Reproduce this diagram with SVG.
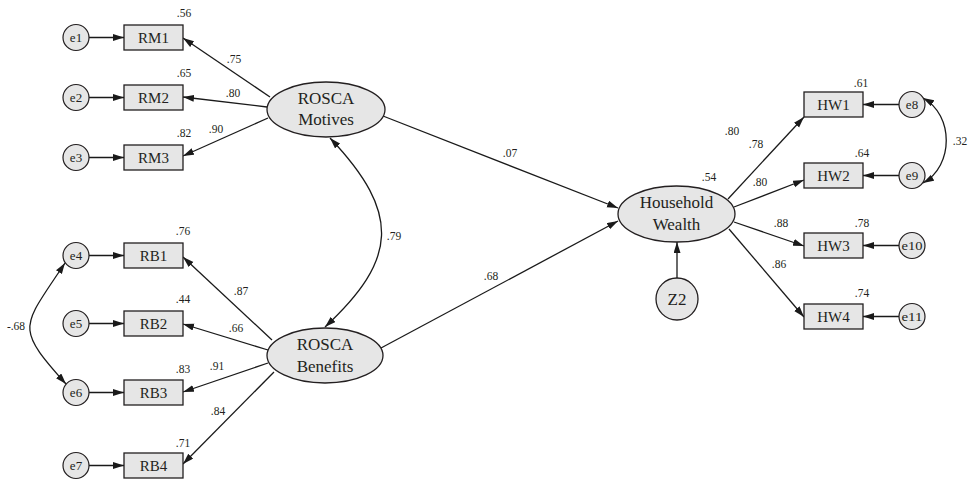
<svg xmlns="http://www.w3.org/2000/svg" width="970" height="483" viewBox="0 0 970 483">
  <defs>
    <marker id="arrow" markerUnits="userSpaceOnUse" markerWidth="12" markerHeight="8" refX="11" refY="3.5" orient="auto-start-reverse">
      <path d="M0,0 L11,3.5 L0,7 z" fill="#1a1a1a"/>
    </marker>
    <style>
      .box { fill: #e6e6e6; stroke: #231f20; stroke-width: 1.3; }
      .lat { fill: #e6e6e6; stroke: #231f20; stroke-width: 1.3; }
      .err { fill: #e6e6e6; stroke: #231f20; stroke-width: 1.2; }
      .lbl { font-family: "Liberation Serif", "Times New Roman", serif; fill: #231f20; text-anchor: middle; }
      .obs { font-size: 15px; }
      .big { font-size: 17px; }
      .esm { font-size: 13px; }
      .num { font-family: "Liberation Serif", "Times New Roman", serif; font-size: 11.5px; fill: #231f20; text-anchor: middle; }
      .path { fill: none; stroke: #1a1a1a; stroke-width: 1.3; marker-end: url(#arrow); }
      .cov { fill: none; stroke: #1a1a1a; stroke-width: 1.3; marker-start: url(#arrow); marker-end: url(#arrow); }
    </style>
  </defs>

  <rect width="970" height="483" fill="#ffffff"/>

  <!-- Connectors -->
  <g id="connectors">
    <!-- error terms to indicators -->
    <line class="path" x1="89" y1="37.5" x2="124" y2="37.5"/>
    <line class="path" x1="89" y1="97.5" x2="124" y2="97.5"/>
    <line class="path" x1="89" y1="157.5" x2="124" y2="157.5"/>
    <line class="path" x1="89" y1="255.5" x2="124" y2="255.5"/>
    <line class="path" x1="89" y1="323.5" x2="124" y2="323.5"/>
    <line class="path" x1="89" y1="392.5" x2="124" y2="392.5"/>
    <line class="path" x1="89" y1="465.5" x2="124" y2="465.5"/>
    <line class="path" x1="899" y1="104.5" x2="863" y2="104.5"/>
    <line class="path" x1="899" y1="175.5" x2="863" y2="175.5"/>
    <line class="path" x1="899" y1="245.5" x2="863" y2="245.5"/>
    <line class="path" x1="899" y1="316.5" x2="863" y2="316.5"/>

    <!-- ROSCA Motives loadings -->
    <line class="path" x1="270" y1="97" x2="183" y2="38"/>
    <line class="path" x1="267" y1="107" x2="183" y2="97"/>
    <line class="path" x1="268" y1="118" x2="183" y2="156"/>

    <!-- ROSCA Benefits loadings -->
    <line class="path" x1="272" y1="340" x2="183" y2="257"/>
    <line class="path" x1="268" y1="350" x2="183" y2="324"/>
    <line class="path" x1="268" y1="363" x2="183" y2="392"/>
    <line class="path" x1="274" y1="372" x2="183" y2="464"/>

    <!-- structural paths -->
    <line class="path" x1="383" y1="116" x2="618" y2="208"/>
    <line class="path" x1="381" y1="348" x2="618" y2="221"/>
    <line class="path" x1="677" y1="278" x2="677" y2="242"/>

    <!-- Household Wealth loadings -->
    <line class="path" x1="728" y1="199" x2="804" y2="117"/>
    <line class="path" x1="734" y1="207" x2="804" y2="180"/>
    <line class="path" x1="734" y1="222" x2="804" y2="246"/>
    <line class="path" x1="729" y1="229" x2="804" y2="317"/>

    <!-- covariances -->
    <path class="cov" d="M330,138 C402,214 397,260 325,327"/>
    <path class="cov" d="M65,263 C22,328 14,326 66,384"/>
    <path class="cov" d="M923,98 C954,115 954,166 923,183"/>
  </g>

  <!-- Error terms -->
  <g id="e1"><circle class="err" cx="76" cy="37.5" r="13"/><text class="lbl esm" x="76" y="42">e1</text></g>
  <g id="e2"><circle class="err" cx="76" cy="97.5" r="13"/><text class="lbl esm" x="76" y="102">e2</text></g>
  <g id="e3"><circle class="err" cx="76" cy="157.5" r="13"/><text class="lbl esm" x="76" y="162">e3</text></g>
  <g id="e4"><circle class="err" cx="76" cy="255.5" r="13"/><text class="lbl esm" x="76" y="260">e4</text></g>
  <g id="e5"><circle class="err" cx="76" cy="323.5" r="13"/><text class="lbl esm" x="76" y="328">e5</text></g>
  <g id="e6"><circle class="err" cx="76" cy="392.5" r="13"/><text class="lbl esm" x="76" y="397">e6</text></g>
  <g id="e7"><circle class="err" cx="76" cy="465.5" r="13"/><text class="lbl esm" x="76" y="470">e7</text></g>
  <g id="e8"><circle class="err" cx="912" cy="104.5" r="13"/><text class="lbl esm" x="912" y="109">e8</text></g>
  <g id="e9"><circle class="err" cx="912" cy="175.5" r="13"/><text class="lbl esm" x="912" y="180">e9</text></g>
  <g id="e10"><circle class="err" cx="912" cy="245.5" r="13"/><text class="lbl esm" x="912" y="250" textLength="21" lengthAdjust="spacingAndGlyphs">e10</text></g>
  <g id="e11"><circle class="err" cx="912" cy="316.5" r="13"/><text class="lbl esm" x="912" y="321" textLength="21" lengthAdjust="spacingAndGlyphs">e11</text></g>

  <!-- Observed indicators -->
  <g id="RM1"><rect class="box" x="124" y="25" width="59" height="25"/><text class="lbl obs" x="153.5" y="43">RM1</text><text class="num" x="184" y="17">.56</text></g>
  <g id="RM2"><rect class="box" x="124" y="85" width="59" height="25"/><text class="lbl obs" x="153.5" y="103">RM2</text><text class="num" x="184" y="77">.65</text></g>
  <g id="RM3"><rect class="box" x="124" y="145" width="59" height="25"/><text class="lbl obs" x="153.5" y="163">RM3</text><text class="num" x="184" y="137">.82</text></g>
  <g id="RB1"><rect class="box" x="124" y="243" width="59" height="25"/><text class="lbl obs" x="153.5" y="261">RB1</text><text class="num" x="183" y="235">.76</text></g>
  <g id="RB2"><rect class="box" x="124" y="311" width="59" height="25"/><text class="lbl obs" x="153.5" y="329">RB2</text><text class="num" x="183" y="303">.44</text></g>
  <g id="RB3"><rect class="box" x="124" y="380" width="59" height="25"/><text class="lbl obs" x="153.5" y="398">RB3</text><text class="num" x="183" y="373">.83</text></g>
  <g id="RB4"><rect class="box" x="124" y="453" width="59" height="25"/><text class="lbl obs" x="153.5" y="471">RB4</text><text class="num" x="183" y="447">.71</text></g>
  <g id="HW1"><rect class="box" x="804" y="92" width="59" height="25"/><text class="lbl obs" x="833.5" y="110">HW1</text><text class="num" x="861" y="87">.61</text></g>
  <g id="HW2"><rect class="box" x="804" y="163" width="59" height="25"/><text class="lbl obs" x="833.5" y="181">HW2</text><text class="num" x="862" y="157">.64</text></g>
  <g id="HW3"><rect class="box" x="804" y="233" width="59" height="25"/><text class="lbl obs" x="833.5" y="251">HW3</text><text class="num" x="862" y="227">.78</text></g>
  <g id="HW4"><rect class="box" x="804" y="304" width="59" height="25"/><text class="lbl obs" x="833.5" y="322">HW4</text><text class="num" x="862" y="297">.74</text></g>

  <!-- Latent constructs -->
  <g id="ROSCA-Motives">
    <ellipse class="lat" cx="326" cy="109.5" rx="59" ry="27.5"/>
    <text class="lbl big" x="326" y="104">ROSCA</text>
    <text class="lbl big" x="326" y="125">Motives</text>
  </g>
  <g id="ROSCA-Benefits">
    <ellipse class="lat" cx="325" cy="355.5" rx="58" ry="27.5"/>
    <text class="lbl big" x="325" y="350">ROSCA</text>
    <text class="lbl big" x="325" y="372">Benefits</text>
  </g>
  <g id="Household-Wealth">
    <ellipse class="lat" cx="676.5" cy="214" rx="58.5" ry="28"/>
    <text class="lbl big" x="676.5" y="208">Household</text>
    <text class="lbl big" x="676.5" y="230">Wealth</text>
    <text class="num" x="709" y="181">.54</text>
  </g>
  <g id="Z2">
    <circle class="lat" cx="677" cy="299" r="21"/>
    <text class="lbl big" x="677" y="305">Z2</text>
  </g>

  <!-- Path coefficients -->
  <g id="coefficients">
    <text class="num" x="234" y="63">.75</text>
    <text class="num" x="233" y="97">.80</text>
    <text class="num" x="216" y="133">.90</text>
    <text class="num" x="241" y="295">.87</text>
    <text class="num" x="236" y="332">.66</text>
    <text class="num" x="217" y="370">.91</text>
    <text class="num" x="218" y="415">.84</text>
    <text class="num" x="16" y="330">-.68</text>
    <text class="num" x="394" y="240">.79</text>
    <text class="num" x="510" y="157">.07</text>
    <text class="num" x="491" y="280">.68</text>
    <text class="num" x="732" y="135">.80</text>
    <text class="num" x="756" y="148">.78</text>
    <text class="num" x="760" y="186">.80</text>
    <text class="num" x="781" y="227">.88</text>
    <text class="num" x="779" y="268">.86</text>
    <text class="num" x="960" y="145">.32</text>
  </g>
</svg>
